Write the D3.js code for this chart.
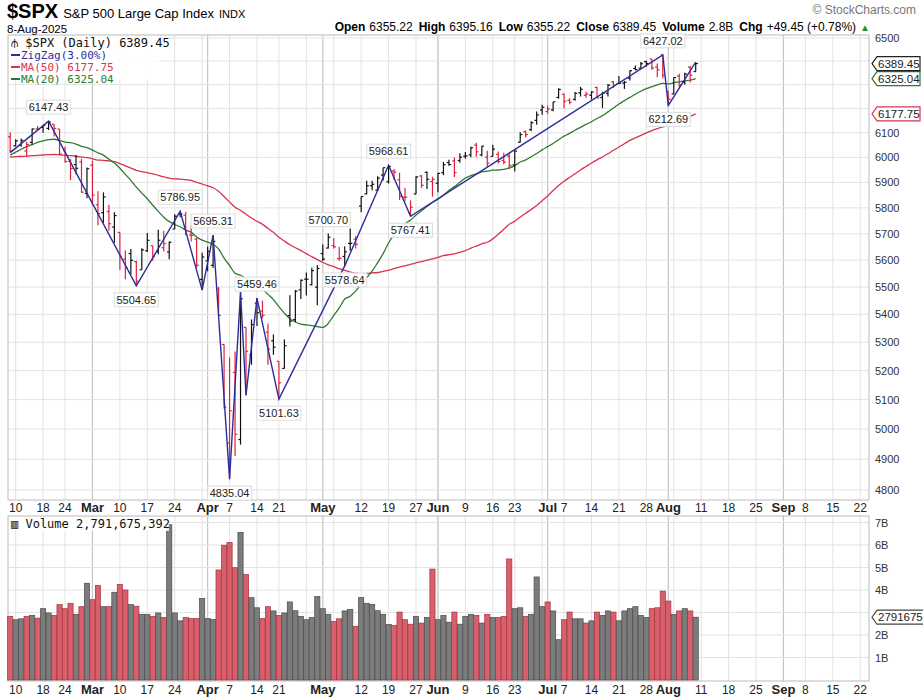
<!DOCTYPE html>
<html>
<head>
<meta charset="utf-8">
<script src="https://cdn.jsdelivr.net/npm/d3@7"></script>
<style>
  body { margin: 0; background: #fff; }
  svg text { font-family: Arial, "Liberation Sans", sans-serif; }
  .mono { font-family: "DejaVu Sans Mono", monospace; }
</style>
</head>
<body>
<svg id="chart" width="923" height="700"></svg>
<script>
// Closes before the visible window (used only for the moving averages)
const priorCloses = [5893.62,5916.98,5917.11,5948.71,5969.34,5987.37,6021.63,5998.74,6032.38,
  6047.15,6049.88,6086.49,6075.11,6090.27,6052.85,6034.91,6084.19,6051.25,6051.09,6074.08,6050.61,
  5872.16,5867.08,5930.85,5974.07,6040.04,6037.59,5970.84,5906.94,5881.63,
  5868.55,5942.47,5975.38,5909.03,5918.25,5827.04,5836.22,5842.91,5949.91,5937.34,5996.66,6049.24,
  6086.37,6118.71,6101.24,6012.28,6067.70,6039.31,6071.17,6040.53,5994.57,6037.88,6061.48,6083.57];

// Daily bars, 7-Feb-2025 .. 8-Aug-2025
const opens = [6083.1,6046.4,6049.3,6025.1,6060.6,6115.5,6121.6,6117.8,6134.5,6114.8,
  6026.7,5982.7,5970.9,5981.9,5856.7,5968.3,5811.9,5781.4,5785.9,5726.0,
  5705.4,5603.7,5624.8,5594.5,5563.9,5635.6,5654.5,5632.4,5646.9,5630.7,
  5718.1,5775.9,5771.7,5695.6,5679.9,5527.9,5597.5,5580.8,5492.7,5292.1,
  4953.8,5193.6,4965.3,5353.2,5255.6,5441.0,5411.9,5335.8,5305.5,5232.9,
  5207.7,5395.9,5381.4,5489.7,5529.2,5508.9,5499.4,5625.1,5645.9,5655.3,
  5605.9,5614.0,5663.2,5679.3,5807.1,5854.6,5886.8,5869.8,5929.1,5902.9,
  5944.7,5910.1,5841.3,5781.9,5854.1,5925.6,5939.9,5903.7,5896.7,5938.6,
  5978.9,5985.7,5987.1,6004.6,6009.9,6049.4,6009.9,6000.6,6004.0,6012.2,
  5987.9,6004.6,5969.7,6061.2,6104.2,6112.1,6150.7,6193.4,6187.3,6193.7,
  6246.0,6259.3,6233.7,6238.1,6265.2,6255.1,6255.2,6288.0,6245.7,6263.6,
  6311.4,6304.7,6306.6,6326.9,6368.6,6370.0,6397.7,6409.4,6374.4,6427.0,
  6271.7,6260.6,6336.1,6309.3,6374.2,6355.22];
const highs = [6101.3,6073.4,6076.3,6063.0,6116.9,6127.5,6129.6,6147.43,6134.5,6114.8,
  6043.6,5992.6,6009.8,5993.7,5959.4,5986.1,5865.1,5860.6,5812.1,5783.0,
  5705.4,5636.3,5642.2,5597.8,5645.3,5703.5,5654.5,5715.3,5711.2,5670.8,
  5775.1,5786.95,5783.6,5732.3,5685.9,5627.6,5650.6,5695.31,5500.3,5292.1,
  5246.6,5267.5,5481.3,5353.2,5381.5,5459.46,5450.4,5367.2,5328.3,5232.9,
  5309.6,5469.7,5489.4,5528.1,5553.7,5571.9,5581.8,5658.9,5700.70,5683.5,
  5649.8,5653.0,5720.1,5691.7,5844.2,5906.6,5906.6,5924.0,5958.6,5968.61,
  5953.1,5938.4,5878.1,5829.5,5924.3,5929.0,5943.1,5922.1,5937.4,5981.4,
  5990.5,5999.7,6016.9,6021.3,6043.0,6059.4,6045.4,6026.2,6050.8,6023.3,
  6018.2,6018.2,6028.6,6101.8,6108.5,6146.5,6187.7,6215.1,6210.8,6227.6,
  6284.7,6262.3,6242.7,6269.0,6290.2,6269.4,6272.7,6291.1,6269.6,6302.9,
  6315.6,6336.1,6316.1,6360.6,6381.3,6395.8,6401.1,6409.4,6389.7,6427.02,
  6271.7,6330.1,6346.1,6350.4,6379.3,6395.16];
const lows = [6019.0,6044.8,6042.3,6003.0,6051.0,6107.6,6099.5,6111.2,6084.6,6008.6,
  5977.8,5908.5,5932.7,5858.8,5837.7,5810.9,5732.6,5742.4,5711.6,5666.3,
  5564.0,5528.4,5546.1,5504.65,5563.9,5631.1,5597.8,5622.2,5632.3,5603.1,
  5718.1,5764.0,5694.4,5670.9,5572.4,5488.7,5558.5,5571.5,5390.8,5069.9,
  4835.04,4910.4,4948.4,5115.3,5220.8,5358.0,5386.4,5220.8,5255.6,5101.63,
  5207.7,5356.2,5371.9,5455.9,5468.6,5505.7,5433.2,5597.4,5644.0,5644.3,
  5598.1,5578.64,5635.2,5644.5,5782.9,5853.2,5868.5,5867.4,5907.4,5895.7,
  5909.3,5830.9,5825.8,5767.41,5854.1,5878.1,5873.8,5843.7,5861.4,5929.0,
  5966.1,5921.2,5978.6,5994.2,6000.3,6002.3,6003.9,5963.2,6004.0,5974.8,
  5971.9,5952.6,5943.2,6059.7,6080.1,6107.2,6132.3,6174.0,6177.9,6188.3,
  6240.6,6201.0,6217.4,6231.9,6249.6,6245.0,6237.1,6243.6,6201.5,6250.4,
  6285.2,6303.8,6281.7,6317.5,6360.6,6368.5,6375.4,6362.7,6331.2,6326.7,
  6212.69,6260.6,6289.2,6298.9,6309.0,6355.22];
const closes = [6025.99,6066.44,6068.50,6051.97,6115.07,6114.63,6129.58,6144.15,6117.52,6013.13,
  5983.25,5955.25,5956.06,5861.57,5954.50,5849.72,5778.15,5842.63,5738.52,5770.20,
  5614.56,5572.07,5599.30,5521.52,5638.94,5675.12,5614.66,5675.29,5662.89,5667.56,
  5767.57,5776.65,5712.20,5693.31,5580.94,5611.85,5633.07,5670.97,5396.52,5074.08,
  5062.25,4982.77,5456.90,5268.05,5363.36,5405.97,5396.63,5275.70,5282.70,5158.20,
  5287.76,5375.86,5484.77,5525.21,5528.75,5560.83,5569.06,5604.14,5686.67,5650.38,
  5606.91,5631.28,5663.94,5659.91,5844.19,5886.55,5892.58,5916.93,5958.38,5963.60,
  5940.46,5844.61,5842.01,5802.82,5921.54,5888.55,5912.17,5911.69,5935.94,5970.37,
  5970.81,5939.30,6000.36,6005.88,6038.81,6022.24,6045.26,5976.97,6033.11,5982.72,
  5980.87,5967.84,6025.17,6092.18,6092.16,6141.02,6173.07,6204.95,6198.01,6227.42,
  6279.35,6229.98,6225.52,6263.26,6280.46,6259.75,6268.56,6243.76,6263.70,6297.36,
  6296.79,6305.60,6309.62,6358.91,6363.35,6388.64,6389.77,6370.86,6362.90,6339.39,
  6238.01,6329.94,6299.19,6345.06,6340.00,6389.45];
// Volume in billions of shares
const volumes = [2.83,2.68,2.72,2.83,2.87,2.75,3.17,2.98,2.87,3.35,
  3.17,3.41,2.92,3.26,4.30,3.57,4.20,3.26,3.26,3.90,
  4.25,4.00,3.35,3.28,2.92,2.92,2.83,2.98,2.78,6.90,
  2.98,2.63,2.78,2.73,2.73,3.62,2.73,2.69,4.89,5.99,
  6.11,4.99,6.56,4.69,3.66,3.21,2.73,3.26,3.07,2.87,
  2.98,3.47,3.08,2.83,2.68,2.78,3.71,3.17,2.92,2.60,
  2.72,3.07,3.14,2.38,3.66,3.41,3.36,3.08,2.92,2.47,
  2.42,3.02,2.68,2.48,2.83,2.53,2.78,4.93,2.68,2.87,
  2.57,3.02,2.48,2.83,2.92,2.87,2.53,2.92,2.78,2.78,
  2.83,5.38,3.17,3.21,2.83,2.92,4.58,3.26,3.47,3.07,
  1.79,2.68,3.02,2.72,2.72,2.53,2.63,3.02,2.87,3.07,
  3.02,2.63,3.07,3.17,3.26,2.87,2.78,3.17,3.21,3.95,
  3.51,2.92,3.07,3.17,3.07,2.79];
const holidays = ["2025-02-17","2025-04-18","2025-05-26","2025-06-19","2025-07-04","2025-09-01"];
// ZigZag(3%) pivots: [bar index, value]
const zigzag = [[0,6019.0],[7,6147.43],[23,5504.65],[31,5786.95],[35,5488.7],[37,5695.31],
  [40,4835.04],[42,5481.3],[43,5115.3],[45,5459.46],[49,5101.63],[61,5578.64],[69,5968.61],
  [73,5767.41],[119,6427.02],[120,6212.69],[125,6395.16]];
// Labelled pivots: [bar index, value, above?]
const pivotLabels = [[7,6147.43,1],[23,5504.65,0],[31,5786.95,1],[37,5695.31,1],[40,4835.04,0],
  [45,5459.46,1],[49,5101.63,0],[58,5700.70,1],[61,5578.64,0],[69,5968.61,1],[73,5767.41,0],
  [119,6427.02,1],[120,6212.69,0]];
const priceTicks = d3.range(4800, 6501, 100);
const volTicks = [1,2,3,4,5,6,7];
const monthNames = ["Jan","Feb","Mar","Apr","May","Jun","Jul","Aug","Sep","Oct","Nov","Dec"];

// trading days Feb 7 .. end of Sep
const days = [];
for (let d = new Date(Date.UTC(2025,1,7)); d <= new Date(Date.UTC(2025,8,26)); d.setUTCDate(d.getUTCDate()+1)) {
  const wd = d.getUTCDay(), iso = d.toISOString().slice(0,10);
  if (wd === 0 || wd === 6 || holidays.includes(iso)) continue;
  days.push(new Date(d));
}

const svg = d3.select("#chart");
const L = 8, R = 869, pTop = 35, pBot = 500, vTop = 516, vBot = 681;
const x = d3.scaleLinear().domain([-0.4, 156.6]).range([L, R]);
const y = d3.scaleLog().domain([4800, 6500]).range([490, 38]);
const yv = d3.scaleLinear().domain([0, 7]).range([680, 522.5]);

// moving averages from the full close history
const allCloses = priorCloses.concat(closes);
function ma(n) {
  return closes.map((c, i) => {
    const j = i + priorCloses.length;
    return d3.mean(allCloses.slice(Math.max(0, j - n + 1), j + 1));
  });
}
const ma50 = ma(50), ma20 = ma(20);
const lastClose = closes[closes.length - 1], last50 = ma50[ma50.length - 1], last20 = ma20[ma20.length - 1];

// ticks: first trading day of each month and week
const monthTicks = [], weekTicks = [];
days.forEach((d, i) => {
  const p = days[i - 1];
  if (p && p.getUTCMonth() !== d.getUTCMonth()) monthTicks.push(i);
  if (p && (d.getUTCDay() < p.getUTCDay() || (d - p) > 3 * 864e5)) weekTicks.push(i);
});

// panel frames and grid
function grid(top, bot) {
  const g = svg.append("g");
  g.selectAll(".wk").data(weekTicks).join("line")
    .attr("x1", i => x(i)).attr("x2", i => x(i)).attr("y1", top).attr("y2", bot)
    .attr("stroke", "#e3e3e3");
  g.selectAll(".mo").data(monthTicks).join("line")
    .attr("x1", i => x(i)).attr("x2", i => x(i)).attr("y1", top).attr("y2", bot)
    .attr("stroke", "#c4c4c4").attr("stroke-width", 1.2);
  return g;
}
const gp = grid(pTop, pBot);
gp.selectAll(".h").data(priceTicks).join("line")
  .attr("x1", L).attr("x2", R).attr("y1", d => y(d)).attr("y2", d => y(d)).attr("stroke", "#e3e3e3");
const gv = grid(vTop, vBot);
gv.selectAll(".h").data(volTicks).join("line")
  .attr("x1", L).attr("x2", R).attr("y1", d => yv(d)).attr("y2", d => yv(d)).attr("stroke", "#e3e3e3");
[[pTop, pBot], [vTop, vBot]].forEach(([t, b]) =>
  svg.append("rect").attr("x", L).attr("y", t).attr("width", R - L).attr("height", b - t)
    .attr("fill", "none").attr("stroke", "#bbb"));

// right axes (labels hidden where a value tag sits on them)
const tagYs = [y(lastClose), y(last20), y(last50)];
svg.append("g").attr("transform", `translate(${R},0)`)
  .call(d3.axisRight(y).tickValues(priceTicks.filter(t => tagYs.every(ty => Math.abs(y(t) - ty) > 11)))
    .tickSize(0).tickPadding(6).tickFormat(d3.format("d")))
  .call(g => g.select(".domain").remove())
  .selectAll("text").attr("font-size", 11).attr("fill", "#333");
svg.append("g").attr("transform", `translate(${R},0)`)
  .call(d3.axisRight(yv).tickValues(volTicks.filter(t => t !== 3)).tickSize(0).tickPadding(6).tickFormat(d => d + "B"))
  .call(g => g.select(".domain").remove())
  .selectAll("text").attr("font-size", 11).attr("fill", "#333");

// date labels under both panels
const labelTicks = monthTicks.map(i => ({i, t: monthNames[days[i].getUTCMonth()], m: true}))
  .concat(weekTicks.filter(w => !monthTicks.some(m => w - m >= -3 && w - m <= 2))
    .map(i => ({i, t: String(days[i].getUTCDate()), m: false})));
[512, 694].forEach(yy => {
  svg.append("g").selectAll("text").data(labelTicks).join("text")
    .attr("x", d => x(d.i)).attr("y", yy).attr("text-anchor", "middle")
    .attr("font-size", d => d.m ? 13 : 12).attr("font-weight", d => d.m ? "bold" : "normal")
    .attr("fill", "#222").text(d => d.t);
});

// volume bars
const down = closes.map((c, i) => c < (i ? closes[i - 1] : priorCloses[priorCloses.length - 1]));
svg.append("g").selectAll("rect").data(volumes).join("rect")
  .attr("x", (v, i) => x(i) - 2.6).attr("width", 5.2)
  .attr("y", v => yv(v)).attr("height", v => yv(0) - yv(v))
  .attr("fill", (v, i) => down[i] ? "#d8606c" : "#7c7c7c")
  .attr("stroke", (v, i) => down[i] ? "#a8303c" : "#4a4a4a").attr("stroke-width", 0.7);

// moving averages
const line = d3.line().x((d, i) => x(i)).y(d => y(d)).curve(d3.curveMonotoneX);
svg.append("path").attr("d", line(ma50)).attr("fill", "none").attr("stroke", "#d8344f").attr("stroke-width", 1.3);
svg.append("path").attr("d", line(ma20)).attr("fill", "none").attr("stroke", "#2f7a30").attr("stroke-width", 1.3);

// price bars (HLC + open tick)
const bars = svg.append("g").selectAll("g").data(closes).join("g")
  .attr("stroke", (c, i) => down[i] ? "#e0203a" : "#111").attr("stroke-width", 1.2);
bars.append("line").attr("x1", (c, i) => x(i)).attr("x2", (c, i) => x(i))
  .attr("y1", (c, i) => y(highs[i])).attr("y2", (c, i) => y(lows[i]));
bars.append("line").attr("x1", (c, i) => x(i) - 2.2).attr("x2", (c, i) => x(i))
  .attr("y1", (c, i) => y(opens[i])).attr("y2", (c, i) => y(opens[i]));
bars.append("line").attr("x1", (c, i) => x(i)).attr("x2", (c, i) => x(i) + 2.2)
  .attr("y1", c => y(c)).attr("y2", c => y(c));

// zigzag
svg.append("path").attr("d", d3.line().x(d => x(d[0])).y(d => y(d[1]))(zigzag))
  .attr("fill", "none").attr("stroke", "#2d2d9a").attr("stroke-width", 1.4);

// pivot labels
const pl = svg.append("g").selectAll("g").data(pivotLabels).join("g")
  .attr("transform", d => `translate(${x(d[0])},${y(d[1]) + (d[2] ? -14 : 14)})`);
pl.append("rect").attr("x", -22).attr("y", -7).attr("width", 44).attr("height", 14)
  .attr("fill", "#fff").attr("fill-opacity", 0.9).attr("stroke", "#ddd");
pl.append("text").attr("text-anchor", "middle").attr("dy", 4).attr("font-size", 11)
  .attr("fill", "#222").text(d => d3.format(".2f")(d[1]));

// right-side value tags
function tag(yy, txt, col, w) {
  const g = svg.append("g").attr("transform", `translate(${R + 3},${yy})`);
  g.append("path").attr("d", `M0,0 L5,-7 L${w},-7 L${w},7 L5,7 Z`).attr("fill", "#fff").attr("stroke", col).attr("stroke-width", 1.2);
  g.append("text").attr("x", 6).attr("dy", 4).attr("font-size", 11.5).attr("fill", "#222").text(txt);
}
tag(y(last20), d3.format(".2f")(last20), "#2f7a30", 48);
tag(y(last50), d3.format(".2f")(last50), "#d8344f", 48);
tag(y(lastClose), d3.format(".2f")(lastClose), "#222", 48);
tag(yv(volumes[volumes.length - 1]), "2791675", "#444", 52);

// legends
const leg = svg.append("g").attr("class", "mono");
leg.append("rect").attr("x", L + 1).attr("y", pTop + 1).attr("width", 150).attr("height", 44).attr("fill", "#fff").attr("fill-opacity", 0.85);
leg.append("text").attr("x", 11).attr("y", 47).attr("font-size", 12).attr("fill", "#111").attr("class", "mono").text("⫛ $SPX (Daily) 6389.45");
[["ZigZag(3.00%)", "#2d2d9a"], ["MA(50) " + d3.format(".2f")(last50), "#d8344f"],
 ["MA(20) " + d3.format(".2f")(last20), "#2f7a30"]].forEach((d, k) => {
  leg.append("line").attr("x1", 11).attr("x2", 20).attr("y1", 55 + k * 12).attr("y2", 55 + k * 12).attr("stroke", d[1]).attr("stroke-width", 2);
  leg.append("text").attr("x", 21).attr("y", 59 + k * 12).attr("font-size", 11).attr("fill", d[1]).attr("class", "mono").text(d[0]);
});
svg.append("rect").attr("x", L + 1).attr("y", vTop + 1).attr("width", 160).attr("height", 14).attr("fill", "#fff").attr("fill-opacity", 0.85);
svg.append("text").attr("x", 11).attr("y", 528).attr("font-size", 12).attr("fill", "#111").attr("class", "mono").text("▥ Volume 2,791,675,392");

// header
const hd = svg.append("text").attr("x", 7).attr("y", 18);
hd.append("tspan").attr("font-size", 20).attr("font-weight", "bold").text("$SPX");
hd.append("tspan").attr("font-size", 13).attr("dx", 5).text("S&P 500 Large Cap Index");
hd.append("tspan").attr("font-size", 11).attr("dx", 5).text("INDX");
svg.append("text").attr("x", 7).attr("y", 33).attr("font-size", 11.5).text("8-Aug-2025");
const hr = svg.append("text").attr("x", 870).attr("y", 31).attr("text-anchor", "end").attr("font-size", 12);
[["Open", "6355.22"], ["High", "6395.16"], ["Low", "6355.22"], ["Close", "6389.45"], ["Volume", "2.8B"], ["Chg", "+49.45 (+0.78%)"]]
  .forEach((p, k) => {
    hr.append("tspan").attr("font-weight", "bold").attr("dx", k ? 6 : 0).text(p[0]);
    hr.append("tspan").attr("dx", 4).text(p[1]);
  });
hr.append("tspan").attr("dx", 4).attr("fill", "#2a8a3a").attr("font-size", 10).text("▲");
svg.append("text").attr("x", 916).attr("y", 14).attr("text-anchor", "end").attr("font-size", 12).attr("fill", "#777").text("© StockCharts.com");
</script>
</body>
</html>
